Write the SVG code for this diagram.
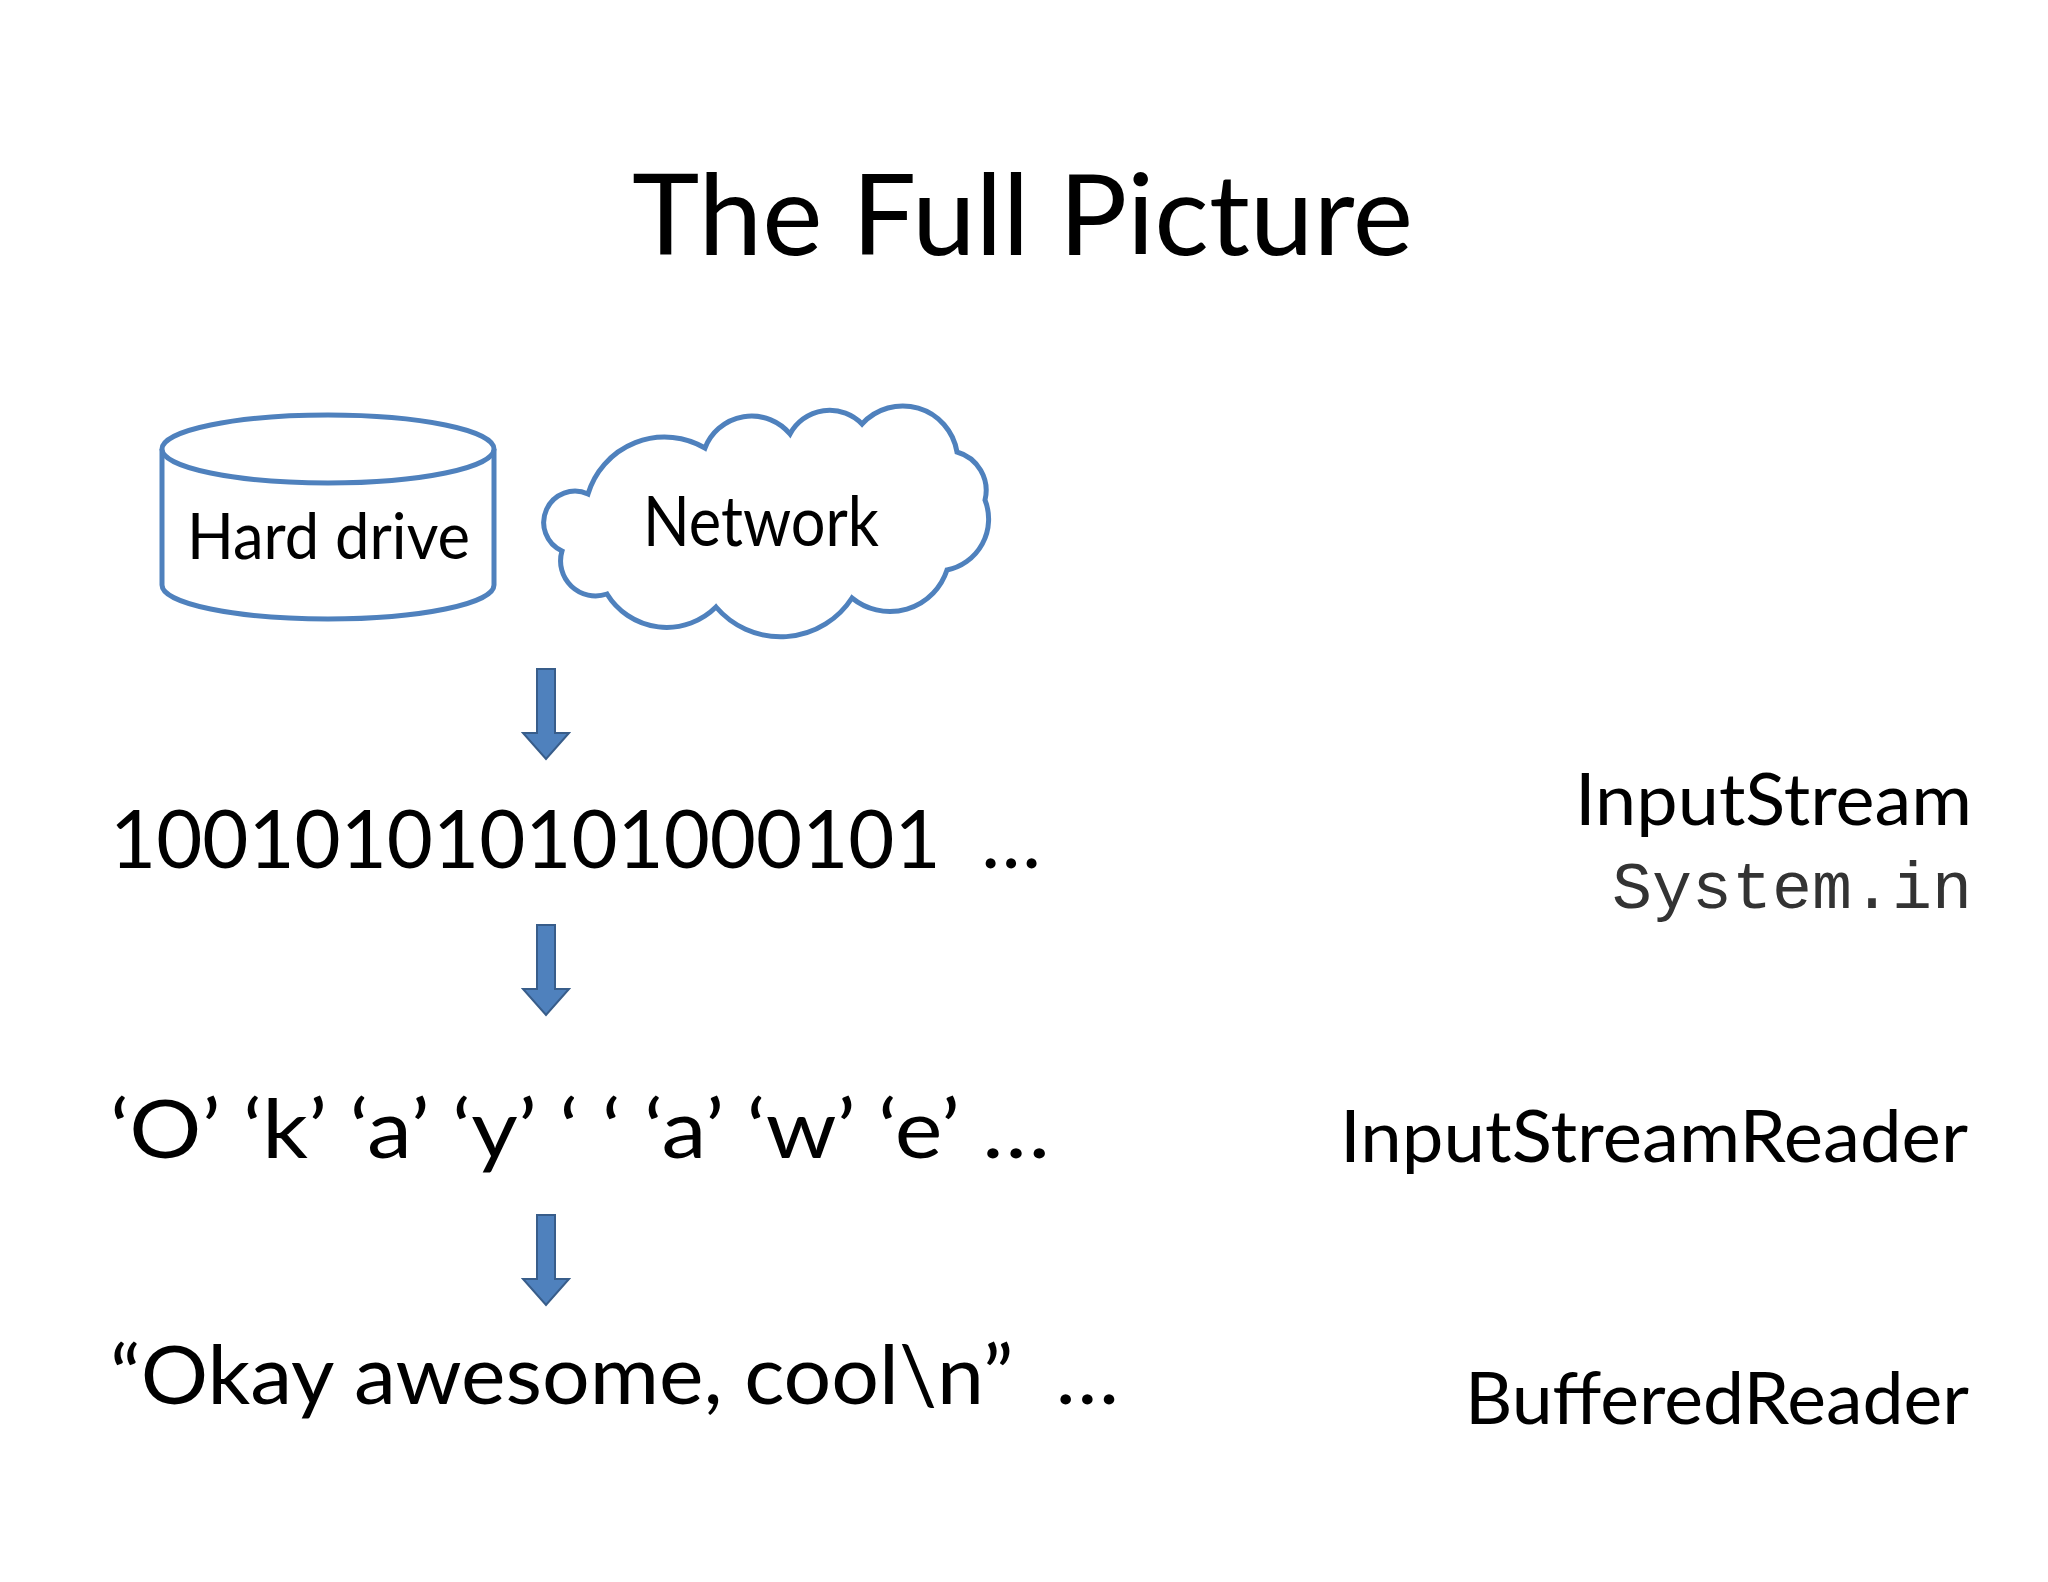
<svg xmlns="http://www.w3.org/2000/svg" width="2048" height="1582" viewBox="0 0 2048 1582">
<style>
.t{font-family:Lato,"Open Sans",sans-serif;fill:#000;white-space:pre}
.shape{fill:#fff;stroke:#4f81bd;stroke-width:5}
.arr{fill:#4f81bd;stroke:#385d8a;stroke-width:2}
</style>
<defs><path id="ar" d="M-9,0 H9 V64 H23 L0,90 L-23,64 H-9 Z"/></defs>
<rect width="2048" height="1582" fill="#fff"/>
<text class="t" x="632" y="255" font-size="112" textLength="781" lengthAdjust="spacingAndGlyphs">The Full Picture</text>
<g id="harddrive">
<path class="shape" d="M162,449 V585 A166,34 0 0 0 494,585 V449"/>
<ellipse class="shape" cx="328" cy="449" rx="166" ry="34"/>
<text class="t" x="187" y="559" font-size="64" textLength="283" lengthAdjust="spacingAndGlyphs">Hard drive</text>
</g>
<g id="network">
<path class="shape" d="M588,494 A80,80 0 0 1 705,448 A50,50 0 0 1 790,434 A45,45 0 0 1 862,424 A55,55 0 0 1 957,452 A40,40 0 0 1 985,500 A52,52 0 0 1 947,570 A60,60 0 0 1 852,598 A85,85 0 0 1 716,607 A70,70 0 0 1 607,594 A35,35 0 0 1 562,551 A30,30 0 0 1 588,494 Z"/>
<text class="t" x="643" y="546" font-size="69" textLength="236" lengthAdjust="spacingAndGlyphs">Network</text>
</g>
<g id="connectors">
<use href="#ar" class="arr" x="546" y="669"/>
<use href="#ar" class="arr" x="546" y="925"/>
<use href="#ar" class="arr" x="546" y="1215"/>
</g>
<g id="bytes"><text class="t" xml:space="preserve" x="110" y="868" font-size="82" textLength="931" lengthAdjust="spacingAndGlyphs">100101010101000101  …</text></g>
<g id="chars"><text class="t" x="110" y="1158" font-size="82" textLength="940" lengthAdjust="spacingAndGlyphs">‘O’ ‘k’ ‘a’ ‘y’ ‘ ‘ ‘a’ ‘w’ ‘e’ …</text></g>
<g id="lines"><text class="t" xml:space="preserve" x="110" y="1404" font-size="82" textLength="1009" lengthAdjust="spacingAndGlyphs">“Okay awesome, cool\n”  …</text></g>
<g id="inputstream">
<text class="t" x="1575" y="825" font-size="72" textLength="397" lengthAdjust="spacingAndGlyphs">InputStream</text>
<text x="1612" y="908" font-family="Liberation Mono,monospace" font-size="66" fill="#333" textLength="360" lengthAdjust="spacingAndGlyphs">System.in</text>
</g>
<g id="isr"><text class="t" x="1340" y="1162" font-size="72" textLength="628" lengthAdjust="spacingAndGlyphs">InputStreamReader</text></g>
<g id="br"><text class="t" x="1465" y="1424" font-size="72" textLength="504" lengthAdjust="spacingAndGlyphs">BufferedReader</text></g>
</svg>
